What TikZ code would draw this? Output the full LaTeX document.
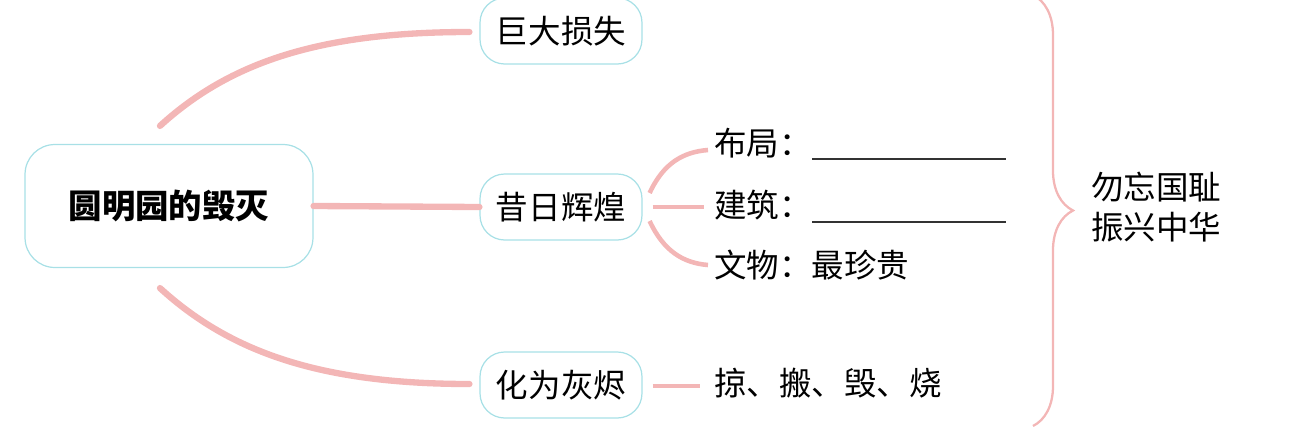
\documentclass[tikz,border=0pt]{standalone}
\usepackage{fontspec}
\setmainfont{Noto Sans CJK SC}
\usetikzlibrary{positioning,calc,decorations.pathreplacing}
\definecolor{linkpink}{RGB}{243,182,182}
\definecolor{boxcyan}{RGB}{168,224,230}

\begin{document}
\begin{tikzpicture}[
  x=0.02cm, y=-0.02cm,
  box/.style={draw=boxcyan, line width=0.7pt, rounded corners=14pt,
              minimum width=3.24cm, minimum height=1.32cm, align=center,
              font=\fontsize{18.5}{22}\selectfont},
  mainbox/.style={box, rounded corners=17pt, minimum width=5.76cm,
              minimum height=2.46cm, font=\fontsize{19}{22}\selectfont\bfseries},
  link/.style={linkpink, line width=3.6pt, line cap=round},
  twig/.style={linkpink, line width=2.6pt},
  leaf/.style={anchor=west, inner sep=0pt, font=\fontsize{18.5}{22}\selectfont},
  blank/.style={draw=black!80, line width=0.7pt}
]
\useasboundingbox (0,0) rectangle (1296,433);

% Centre: the topic
\node[mainbox] (yuan) at (169,206) {圆明园的毁灭};

% Three branches
\node[box] (loss) at (561,31) {巨大损失};
\node[box] (glory) at (561,207) {昔日辉煌};
\node[box] (ashes) at (561,385) {化为灰烬};

% Details of the past glory
\node[leaf] (layout) at (714,143) {布局：};
\node[leaf] (build) at (714,205) {建筑：};
\node[leaf] (relic) at (714,265) {文物：最珍贵};
\draw[blank] ($(layout.east)+(0,16)$) -- ++(194,0);
\draw[blank] ($(build.east)+(0,17)$) -- ++(194,0);

% Details of the destruction
\node[leaf] (deeds) at (714,383) {掠、搬、毁、烧};

% Conclusion
\node[align=center, inner sep=0pt, font=\fontsize{18.5}{22.5}\selectfont]
  (motto) at (1156,207) {勿忘国耻\\振兴中华};

% Links from the topic
\draw[link] ($(yuan.north)+(-9,-18)$) .. controls (230,62) and (320,32)
  .. ($(loss.west)+(-10,1)$);
\draw[link] (yuan.east) -- (glory.west);
\draw[link] ($(yuan.south)+(-9,20)$) .. controls (230,352) and (320,384)
  .. ($(ashes.west)+(-10,-1)$);

% Twigs
\draw[twig] ($(glory.east)+(7,-14)$) .. controls +(14,-30) and +(-25,2)
  .. ($(layout.west)+(-6,7)$);
\draw[twig] ($(glory.east)+(10,0)$) -- ($(build.west)+(-10,2)$);
\draw[twig] ($(glory.east)+(7,14)$) .. controls +(14,30) and +(-25,-2)
  .. ($(relic.west)+(-6,0)$);
\draw[twig] ($(ashes.east)+(10,1)$) -- ($(deeds.west)+(-14,3)$);

% Brace
\draw[linkpink, line width=1.3pt, decorate,
      decoration={brace, amplitude=0.8cm}] (1033,-5) -- (1033,426);

\end{tikzpicture}
\end{document}
